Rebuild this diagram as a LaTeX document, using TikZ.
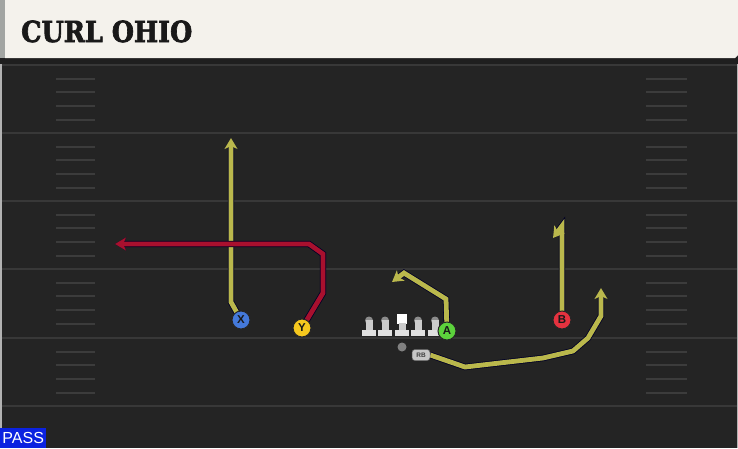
\documentclass[tikz,border=0pt]{standalone}
\usepackage{fontspec}
\setmainfont{DejaVu Sans}
\newfontfamily\titlefont{DejaVu Serif}[FakeBold=2.5]
\newfontfamily\labfont{Liberation Sans}
\usetikzlibrary{arrows.meta}
\pgfdeclarelayer{back}
\pgfdeclarelayer{routes}
\pgfsetlayers{back,routes,main}
\definecolor{fieldbg}{HTML}{242424}
\definecolor{yardc}{HTML}{383838}
\definecolor{hashc}{HTML}{3C3C3C}
\definecolor{barbg}{HTML}{F4F2EC}
\definecolor{bargrey}{HTML}{A2A5A2}
\definecolor{passblue}{HTML}{0B22E0}
\definecolor{yroute}{HTML}{BAB84C}
\definecolor{rroute}{HTML}{A8102E}
\definecolor{pX}{HTML}{4479DA}
\definecolor{pY}{HTML}{F6C81E}
\definecolor{pA}{HTML}{5CD23C}
\definecolor{pB}{HTML}{E5323F}
\tikzset{
  yard/.style={draw=yardc, line width=1.4pt},
  hashmark/.style={draw=hashc, line width=1.1pt},
  player/.style={circle, minimum size=18pt, inner sep=0pt, draw=black!85, line width=1pt,
    font=\labfont\bfseries\fontsize{11.5}{11.5}\selectfont, text=black!90},
  route/.style={line width=4.8pt, line join=miter,
    preaction={draw=black!85!blue, line width=6.4pt},
    -{Stealth[length=11pt,width=13pt,inset=3pt]}},
  lineman/.pic={
    \fill[black!45] (0,-1.5) circle (4pt);
    \fill[black!20] (-3.5,-2) rectangle (3.5,9);
    \fill[black!12] (-7,8) rectangle (7,13.5);
  },
  centerman/.pic={
    \fill[white] (-4.8,-8) rectangle (4.8,1.5);
    \fill[black!20] (-3.5,1) rectangle (3.5,9);
    \fill[black!12] (-7,8) rectangle (7,13.5);
  }
}
\begin{document}
\begin{tikzpicture}[x=1pt,y=-1pt]
\useasboundingbox (0,0) rectangle (738,448);
\begin{pgfonlayer}{back}
  \fill[fieldbg] (0,0) rectangle (738,448);
  \foreach \yy in {65,133,201,269,338,406} \draw[yard] (0,\yy) -- (738,\yy);
  \foreach \yy in {65,133,201,269,338} \foreach \dd in {14,27,41,55} {
    \draw[hashmark] (56,\yy+\dd) -- (95,\yy+\dd);
    \draw[hashmark] (646,\yy+\dd) -- (687,\yy+\dd);
  }
  \fill[black!30] (0,63) rectangle (1.5,448);
  \fill[black!30] (736.5,63) rectangle (738,448);
  \fill[black!88] (0,57) rectangle (738,64);
  \fill[barbg] (5,0) -- (738,0) -- (738,55) -- (735,58) -- (5,58) -- cycle;
  \fill[bargrey] (0,0) rectangle (5,58);
\end{pgfonlayer}

\node[anchor=base west, inner sep=0pt, text=black!90,
  font=\titlefont\bfseries\fontsize{29}{29}\selectfont] (title) at (21,42)
  {\scalebox{0.88}[1]{CURL OHIO}};

\node[fill=passblue, text=white, anchor=south west, minimum width=46pt, minimum height=20pt,
  inner sep=0pt, font=\labfont\fontsize{16}{16}\selectfont] (pass) at (0,448) {PASS};

% offensive line
\pic at (369,322) {lineman};
\pic at (385,322) {lineman};
\pic at (402,322) {centerman};
\pic at (418,322) {lineman};
\pic at (435,322) {lineman};

\node[circle, fill=black!50, minimum size=9pt, inner sep=0pt] (qb) at (402,347) {};
\node[rectangle, rounded corners=3pt, fill=black!22, draw=black!60, line width=0.5pt,
  minimum width=18pt, minimum height=11pt, inner sep=0pt, text=black!75,
  font=\labfont\bfseries\fontsize{6.5}{6.5}\selectfont] (RB) at (421,355) {RB};

\node[player, fill=pX] (X) at (241,320) {X};
\node[player, fill=pY] (Y) at (302,328) {Y};
\node[player, fill=pA] (A) at (447,331) {A};
\node[player, fill=pB] (B) at (562,320) {B};

\begin{pgfonlayer}{routes}
  \draw[route, yroute] (X.center) -- (231,302) -- (231,138);
  \draw[route, rroute] (Y.center) -- (323,293) -- (323,254) -- (309,244) -- (115,244);
  \draw[route, yroute] (A.center) -- (446,299) -- (404,273) -- (392,282);
  \draw[route, yroute] (B.center) -- (562,226) -- (553,238);
  \draw[route, yroute] (RB.east) -- (465,367) -- (543,358) -- (573,351) -- (588,338) -- (601,316) -- (601,288);
\end{pgfonlayer}
\end{tikzpicture}
\end{document}
